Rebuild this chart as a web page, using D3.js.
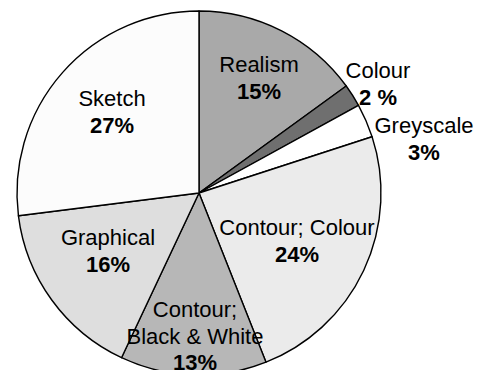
<!DOCTYPE html>
<html>
<head>
<meta charset="utf-8">
<script src="https://cdn.jsdelivr.net/npm/d3@7"></script>
<style>
  html, body { margin: 0; padding: 0; background: #ffffff; }
  svg { display: block; }
  text { font-family: "Liberation Sans", Arial, sans-serif; font-size: 22px; fill: #000; }
</style>
</head>
<body>
<svg id="chart" width="481" height="370"></svg>
<script>
// Share of drawing styles, in percent (clockwise from 12 o'clock)
const categories = ["Realism", "Colour", "Greyscale", "Contour; Colour", "Contour; Black & White", "Graphical", "Sketch"];
const values = [15, 2, 3, 24, 13, 16, 27];
// Text lines printed for each slice (the last line is the value, in bold)
const nameLines = [["Realism"], ["Colour"], ["Greyscale"], ["Contour; Colour"], ["Contour;", "Black & White"], ["Graphical"], ["Sketch"]];
const valueLabels = ["15%", "2 %", "3%", "24%", "13%", "16%", "27%"];

// Slice fills
const fills = ["#a9a9a9", "#6f6f6f", "#ffffff", "#ebebeb", "#b7b7b7", "#dedede", "#fcfcfc"];
// Position of each label's first baseline, relative to the pie centre
const labelOffsets = [[60, -121], [179, -115], [225, -60], [98, 42], [-4, 124], [-91, 52], [-87, -87]];

const width = 481, height = 370;
const cx = 199, cy = 193, radius = 182;
const lineStep = 26.5;

const svg = d3.select("#chart");
const g = svg.append("g").attr("transform", `translate(${cx},${cy})`);

const pie = d3.pie().sort(null).value(d => d)(values);
const arc = d3.arc().innerRadius(0).outerRadius(radius);

g.selectAll("path.slice")
  .data(pie)
  .join("path")
  .attr("class", "slice")
  .attr("d", arc)
  .attr("fill", (d, i) => fills[i])
  .attr("stroke", "#000")
  .attr("stroke-width", 1.4)
  .attr("stroke-linejoin", "round");

const labels = g.selectAll("text.label")
  .data(pie)
  .join("text")
  .attr("class", "label")
  .attr("text-anchor", "middle")
  .attr("transform", (d, i) => `translate(${labelOffsets[i][0]},${labelOffsets[i][1]})`);

labels.each(function(d, i) {
  const t = d3.select(this);
  nameLines[i].forEach((line, k) => {
    t.append("tspan").attr("x", 0).attr("y", k * lineStep).text(line);
  });
  t.append("tspan")
    .attr("x", 0)
    .attr("y", nameLines[i].length * lineStep)
    .attr("font-weight", "bold")
    .text(valueLabels[i]);
});
</script>
</body>
</html>
